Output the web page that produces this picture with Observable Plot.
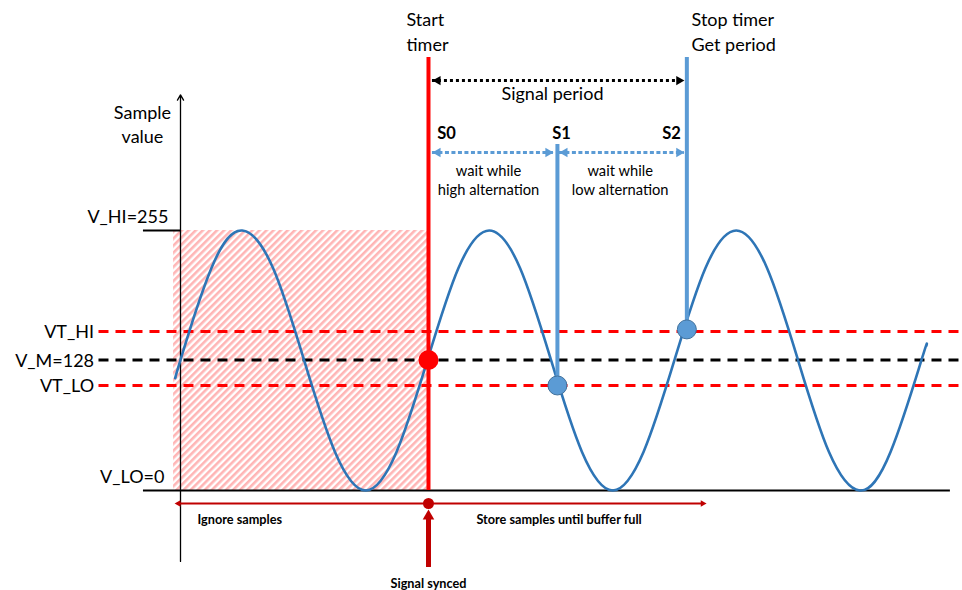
<!DOCTYPE html>
<html><head><meta charset="utf-8">
<script src="https://cdn.jsdelivr.net/npm/d3@7"></script>
<script src="https://cdn.jsdelivr.net/npm/@observablehq/plot@0.6"></script>
<style>
html,body{margin:0;padding:0;background:#fff;}
#chart svg{display:block;}
</style>
</head><body><div id="chart"></div>
<script>
// Signal samples (time in 1/100 of a period, value 0..255)
const signalT = [-2, 0, 12.5, 25, 37.5, 50, 62.5, 75, 87.5, 100, 112.5, 125, 137.5, 150, 162.5, 175, 187.5, 200, 212.5, 225, 237.5, 250, 262.5, 275, 287.5, 300, 302];
const signalV = [111, 128, 218, 255, 218, 128, 38, 0, 38, 128, 218, 255, 218, 128, 38, 0, 38, 128, 218, 255, 218, 128, 38, 0, 38, 128, 142];

// Levels (y labels)
const levelNames = ["V_HI=255", "VT_HI", "V_M=128", "VT_LO", "V_LO=0"];
const levelValues = [255, 156, 128, 103, 0];
const dashedNames = ["VT_HI", "V_M=128", "VT_LO"];

// Events S0 (sync / start timer), S1, S2 (stop timer)
const eventNames = ["S0", "S1", "S2"];
const eventT = [100.4, 152.6, 205];
const eventV = [128, 103, 158];

// Annotation texts
const topNotes = ["Start\ntimer", "Stop timer\nGet period", "Signal period"];
const waitNotes = ["wait while\nhigh alternation", "wait while\nlow alternation"];
const bottomNotes = ["Ignore samples", "Store samples until buffer full", "Signal synced"];
const axisTitle = "Sample\nvalue";

const signal = signalT.map((t, i) => ({t, v: signalV[i]}));
const levels = levelNames.map((name, i) => ({name, v: levelValues[i]}));
const dashed = levels.filter(d => dashedNames.includes(d.name));
const events = eventNames.map((name, i) => ({name, t: eventT[i], v: eventV[i]}));

const kx = 2.47, ky = 260 / 255;
const RED = "#FF0000", DARKRED = "#C00000", BLUE = "#2E75B6", LBLUE = "#5B9BD5";
const font = "Lato, 'Open Sans', sans-serif";
const lineTop = 424.7; // top of the timer lines in value units

const head = (data, o) => Plot.dot(data, {symbol: "triangle", stroke: null, ...o});

const chart = Plot.plot({
  width: 962, height: 590, margin: 0,
  x: {domain: [-180 / kx, 782 / kx], axis: null},
  y: {domain: [-100 / ky, 490 / ky], axis: null},
  style: {fontFamily: font, background: "#fff", color: "#000"},
  marks: [
    Plot.rect([{x1: -2.8, x2: eventT[0], y1: 0, y2: 255}], {x1: "x1", x2: "x2", y1: "y1", y2: "y2", fill: "url(#hatch)"}),
    Plot.ruleY(dashed, {y: "v", x1: -33, x2: 320, stroke: d => d.name === "V_M=128" ? "#000" : RED, strokeWidth: 3, strokeDasharray: "10,7"}),
    Plot.ruleY([0], {y: d => d, x1: -15, x2: 311.7, stroke: "#000", strokeWidth: 2}),
    Plot.ruleY([255], {y: d => d, x1: -15, x2: 0, stroke: "#000", strokeWidth: 2}),
    Plot.arrow([0], {x1: 0, x2: 0, y1: -69.6, y2: 388, stroke: "#000", strokeWidth: 1.3, headLength: 7}),
    Plot.line(signal, {x: "t", y: "v", curve: "natural", stroke: BLUE, strokeWidth: 2.6}),
    Plot.ruleX([events[0]], {x: "t", y1: 0, y2: lineTop, stroke: RED, strokeWidth: 4}),
    Plot.ruleX([events[1]], {x: "t", y1: "v", y2: 339.3, stroke: LBLUE, strokeWidth: 4}),
    Plot.ruleX([events[2]], {x: "t", y1: "v", y2: lineTop, stroke: LBLUE, strokeWidth: 4}),
    Plot.dot([events[0]], {x: "t", y: "v", r: 10, fill: RED, stroke: null}),
    Plot.dot(events.slice(1), {x: "t", y: "v", r: 9.5, fill: LBLUE, stroke: "#41719C", strokeWidth: 1}),
    Plot.ruleY([402], {y: d => d, x1: 102, x2: 204, stroke: "#000", strokeWidth: 3, strokeDasharray: "3,3"}),
    head([{x: 102, r: -90}], {x: "x", y: 402, rotate: "r", dx: 5.4, r: 3.5, fill: "#000"}),
    head([{x: 204, r: 90}], {x: "x", y: 402, rotate: "r", dx: -5.4, r: 3.5, fill: "#000"}),
    Plot.ruleY([{a: 102, b: 151}, {a: 153.4, b: 204}], {y: 331.5, x1: "a", x2: "b", stroke: LBLUE, strokeWidth: 3, strokeDasharray: "4,2.5"}),
    head([{x: 102, r: -90}, {x: 153.4, r: -90}], {x: "x", y: 331.5, rotate: "r", dx: 5.4, r: 3.5, fill: LBLUE}),
    head([{x: 151, r: 90}, {x: 204, r: 90}], {x: "x", y: 331.5, rotate: "r", dx: -5.4, r: 3.5, fill: LBLUE}),
    Plot.ruleY([-12.75], {y: d => d, x1: -1, x2: 211, stroke: DARKRED, strokeWidth: 2}),
    head([{x: -2.4}], {x: "x", y: -12.75, rotate: -90, dx: 3.9, r: 2.5, fill: DARKRED}),
    head([{x: 213}], {x: "x", y: -12.75, rotate: 90, dx: -3.9, r: 2.5, fill: DARKRED}),
    Plot.dot([events[0]], {x: "t", y: -12.75, r: 5.5, fill: DARKRED, stroke: null}),
    Plot.ruleX([events[0]], {x: "t", y1: -75.5, y2: -26, stroke: DARKRED, strokeWidth: 5}),
    head([events[0]], {x: "t", y: -18.4, rotate: 0, dy: 7, r: 4.3, fill: DARKRED}),
    Plot.text([topNotes[0]], {x: 91.5, y: 450.7, text: d => d, textAnchor: "start", fontSize: 18, lineHeight: 1.39, fill: "#000"}),
    Plot.text([topNotes[1]], {x: 206.9, y: 450.7, text: d => d, textAnchor: "start", fontSize: 18, lineHeight: 1.39, fill: "#000"}),
    Plot.text([topNotes[2]], {x: 150.6, y: 388.4, text: d => d, fontSize: 18, fill: "#000"}),
    Plot.text(events, {x: d => [107.7, 154.3, 198.8][eventNames.indexOf(d.name)], y: 350.1, text: "name", fontSize: 16.5, fontWeight: "bold", fill: "#000"}),
    Plot.text([waitNotes[0]], {x: 124.7, y: 305.5, text: d => d, fontSize: 14.7, lineHeight: 1.3, fill: "#000"}),
    Plot.text([waitNotes[1]], {x: 178, y: 305.5, text: d => d, fontSize: 14.7, lineHeight: 1.3, fill: "#000"}),
    Plot.text([axisTitle], {x: -15.4, y: 359.7, text: d => d, fontSize: 18, lineHeight: 1.33, fill: "#000"}),
    Plot.text(dashed, {x: -35, y: "v", dy: 1, text: "name", textAnchor: "end", fontSize: 18, fill: "#000"}),
    Plot.text(levels.filter(d => d.v === 255), {x: -4.9, y: "v", dy: -13, text: "name", textAnchor: "end", fontSize: 18, fill: "#000"}),
    Plot.text(levels.filter(d => d.v === 0), {x: -6.5, y: "v", dy: -13.5, text: "name", textAnchor: "end", fontSize: 18, fill: "#000"}),
    Plot.text([bottomNotes[0]], {x: 6.9, y: -28.4, text: d => d, textAnchor: "start", fontSize: 12.7, fontWeight: "bold", fill: "#000"}),
    Plot.text([bottomNotes[1]], {x: 119.8, y: -28.4, text: d => d, textAnchor: "start", fontSize: 12.7, fontWeight: "bold", fill: "#000"}),
    Plot.text([bottomNotes[2]], {x: 100.4, y: -91.2, text: d => d, fontSize: 12.7, fontWeight: "bold", fill: "#000"})
  ]
});

const svg = d3.select(chart);
const defs = svg.insert("defs", ":first-child");
const pat = defs.append("pattern").attr("id", "hatch").attr("patternUnits", "userSpaceOnUse")
  .attr("width", 5).attr("height", 5).attr("patternTransform", "rotate(45)");
pat.append("rect").attr("width", 5).attr("height", 5).attr("fill", "#fff");
pat.append("rect").attr("width", 2.6).attr("height", 5).attr("fill", "#FFB5B5");
document.getElementById("chart").appendChild(chart);
</script>
</body></html>
